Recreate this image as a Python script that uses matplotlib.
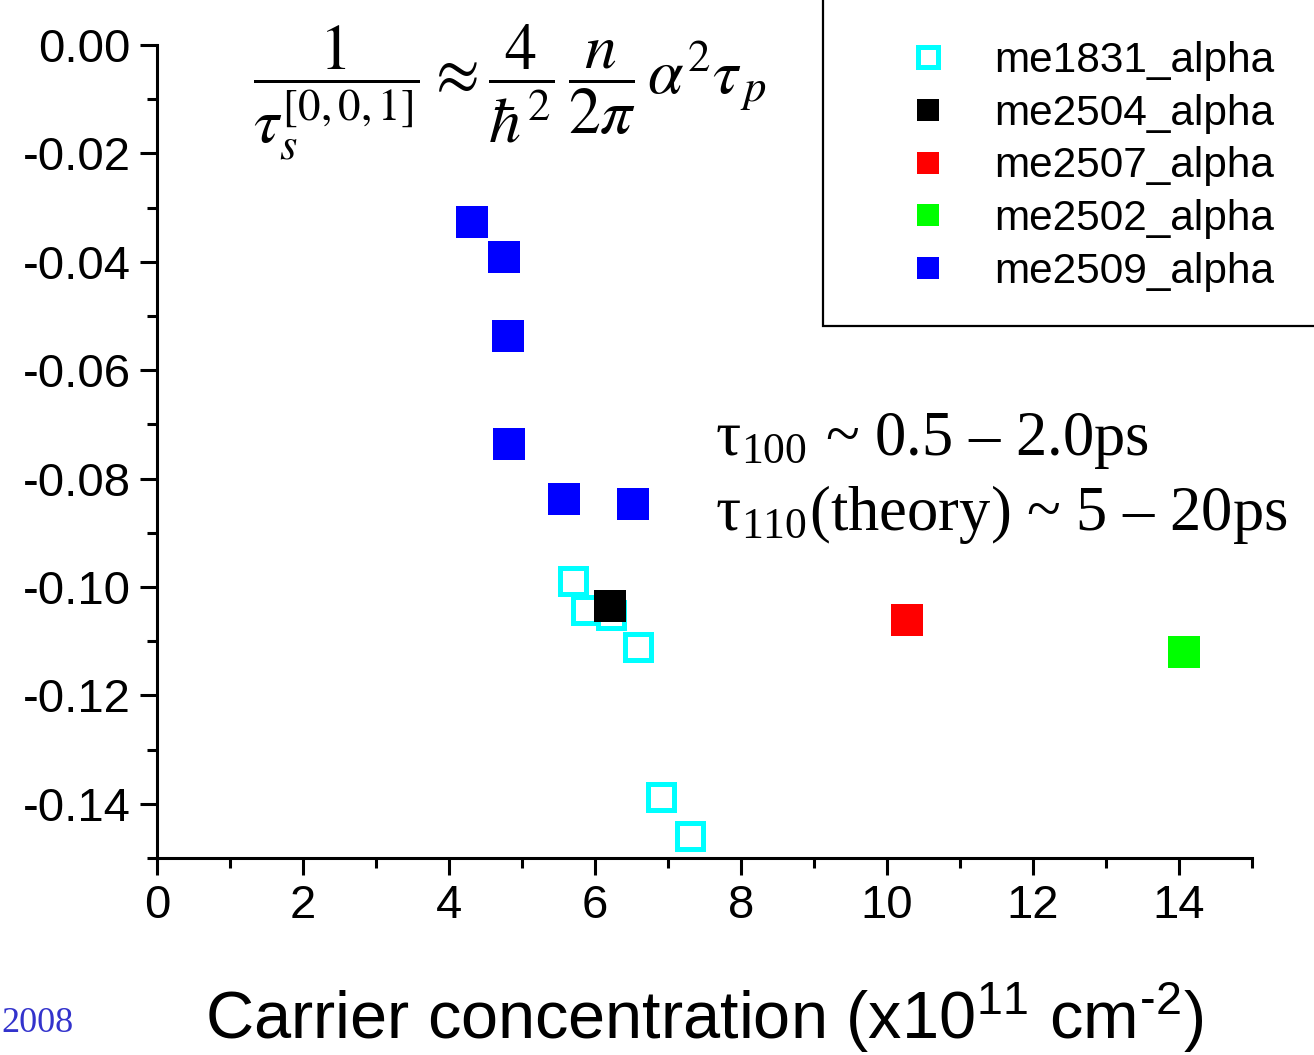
import matplotlib
matplotlib.use("Agg")
import matplotlib.pyplot as plt
import matplotlib.ticker as ticker
from matplotlib.patches import Rectangle

plt.rcParams["font.family"] = ["Liberation Sans", "DejaVu Sans"]
plt.rcParams["mathtext.fontset"] = "stix"
plt.rcParams["axes.unicode_minus"] = False

# ------------------------------- data -------------------------------------- #
me1831_n = [5.70, 5.87, 6.22, 6.59, 6.90, 7.30]
me1831_alpha = [-0.0989, -0.1043, -0.1051, -0.1111, -0.1387, -0.1459]

me2504_n = [6.20]
me2504_alpha = [-0.1035]

me2507_n = [10.27]
me2507_alpha = [-0.1061]

me2502_n = [14.07]
me2502_alpha = [-0.1120]

me2509_n = [4.32, 4.75, 4.81, 4.82, 5.58, 6.52]
me2509_alpha = [-0.0326, -0.0392, -0.0536, -0.0737, -0.0838, -0.0846]

series_labels = ["me1831_alpha", "me2504_alpha", "me2507_alpha", "me2502_alpha", "me2509_alpha"]
# --------------------------------------------------------------------------- #

W, H = 1314, 1055
fig = plt.figure(figsize=(W / 100, H / 100), dpi=100)
ax = fig.add_axes([157 / W, 1 - 858 / H, (1252 - 157) / W, (858 - 45) / H])

ms = 23
ax.plot(me1831_n, me1831_alpha, ls="none", marker="s", ms=ms - 3.6, mfc="white",
        mec="#00ffff", mew=3.6, label=series_labels[0], clip_on=False)
ax.plot(me2504_n, me2504_alpha, ls="none", marker="s", ms=ms, color="black", mew=0,
        label=series_labels[1], clip_on=False)
ax.plot(me2507_n, me2507_alpha, ls="none", marker="s", ms=ms, color="#ff0000", mew=0,
        label=series_labels[2], clip_on=False)
ax.plot(me2502_n, me2502_alpha, ls="none", marker="s", ms=ms, color="#00ff00", mew=0,
        label=series_labels[3], clip_on=False)
ax.plot(me2509_n, me2509_alpha, ls="none", marker="s", ms=ms, color="#0000ff", mew=0,
        label=series_labels[4], clip_on=False)

ax.set_xlim(0, 15)
ax.set_ylim(-0.15, 0.0)
ax.xaxis.set_major_locator(ticker.MultipleLocator(2))
ax.xaxis.set_minor_locator(ticker.MultipleLocator(1))
ax.yaxis.set_major_locator(ticker.MultipleLocator(0.02))
ax.yaxis.set_minor_locator(ticker.MultipleLocator(0.01))
ax.yaxis.set_major_formatter(ticker.FormatStrFormatter("%.2f"))

for side in ["top", "right"]:
    ax.spines[side].set_visible(False)
for side in ["left", "bottom"]:
    ax.spines[side].set_linewidth(2.2)

ax.tick_params(which="major", direction="out", length=12, width=2.2, labelsize=34, pad=7)
ax.tick_params(which="minor", direction="out", length=7, width=2.2)

ax.set_xlabel("Carrier concentration (x10$^{\\mathregular{11}}$ cm$^{\\mathregular{\u20102}}$)",
              fontsize=48, labelpad=37)

# legend box, runs off the top right corner
fig.add_artist(Rectangle((823 / W, 1 - 326 / H), 0.6, 0.6, transform=fig.transFigure,
                         facecolor="white", edgecolor="black", lw=1.6, zorder=4))
handles, labels = ax.get_legend_handles_labels()
fig.legend(handles, labels, loc="upper left", bbox_to_anchor=(907 / W, 1 - 41 / H),
           frameon=False, fontsize=30.5, handlelength=1.0, handletextpad=1.05,
           labelspacing=0.30, borderpad=0, borderaxespad=0, markerscale=0.72,
           numpoints=1)

# formula
fig.text(510 / W, 1 - 92 / H,
         r"$\dfrac{1}{\tau_s^{[0,0,1]}}\approx\dfrac{4}{\hbar^2}\,\dfrac{n}{2\pi}\,\alpha^2\tau_{\,p}$",
         ha="center", va="center", fontsize=46)

# relaxation times
serif = ["Liberation Serif", "DejaVu Serif"]
fig.text(715 / W, 1 - 455 / H, "τ$_{\\mathregular{100}}$ ~ 0.5 – 2.0ps",
         family=serif, fontsize=45, va="baseline")
fig.text(715 / W, 1 - 530 / H, "τ$_{\\mathregular{110}}$(theory) ~ 5 – 20ps",
         family=serif, fontsize=45, va="baseline")

fig.text(1 / W, 1 - 1032 / H, "2008", family=serif, fontsize=26, color="#3333cc",
         ha="left", va="baseline")

fig.savefig("out.png", dpi=100)
